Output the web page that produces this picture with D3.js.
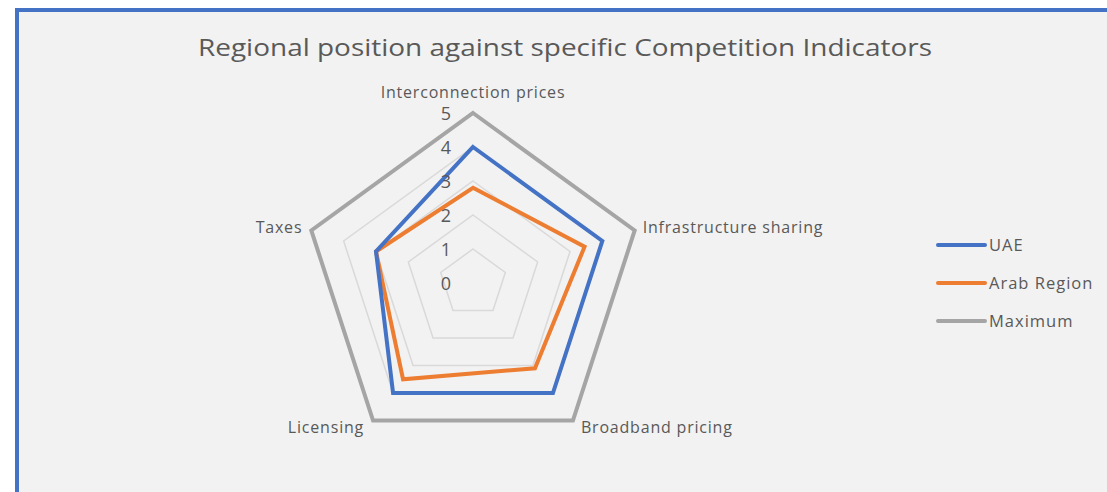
<!DOCTYPE html>
<html>
<head>
<meta charset="utf-8">
<script src="https://cdn.jsdelivr.net/npm/d3@7"></script>
<style>
  body { margin: 0; background: #fff; }
  svg { display: block; font-family: "Open Sans", sans-serif; }
</style>
</head>
<body>
<div id="chart"></div>
<script>
const categories = ["Interconnection prices", "Infrastructure sharing", "Broadband pricing", "Licensing", "Taxes"];
const uae = [4, 4, 4, 4, 3];
const arabRegion = [2.8, 3.45, 3.1, 3.5, 3];
const maximum = [5, 5, 5, 5, 5];
const seriesNames = ["UAE", "Arab Region", "Maximum"];
const ticks = [0, 1, 2, 3, 4, 5];

const width = 1107;
const height = 492;
const cx = 473, cy = 283;
const radius = 170;

const colors = {"UAE": "#4472c4", "Arab Region": "#ed7d31", "Maximum": "#a5a5a5"};
const series = [
    {name: "UAE", values: uae},
    {name: "Arab Region", values: arabRegion},
    {name: "Maximum", values: maximum}
];

const svg = d3.select("#chart").append("svg")
    .attr("width", width)
    .attr("height", height);

// chart area with the blue frame (right/bottom edges run off the page)
svg.append("rect")
    .attr("x", 17).attr("y", 10)
    .attr("width", width + 20).attr("height", height + 20)
    .attr("fill", "#f2f2f2")
    .attr("stroke", "#4472c4")
    .attr("stroke-width", 4);

svg.append("text")
    .attr("x", 565).attr("y", 56)
    .attr("text-anchor", "middle")
    .attr("font-size", 24)
    .attr("fill", "#595959")
    .attr("textLength", 734)
    .attr("lengthAdjust", "spacingAndGlyphs")
    .text("Regional position against specific Competition Indicators");

const r = d3.scaleLinear().domain([0, 5]).range([0, radius]);
const angle = d3.scalePoint().domain(categories).range([0, 2 * Math.PI * 4 / 5]);

const g = svg.append("g").attr("transform", "translate(" + cx + "," + cy + ")");

const radial = d3.lineRadial()
    .angle((d, i) => angle(categories[i]))
    .radius(d => r(d))
    .curve(d3.curveLinearClosed);

// grid rings
g.selectAll(".ring")
    .data(ticks.filter(t => t > 0 && t < 5))
    .enter()
    .append("path")
    .attr("class", "ring")
    .attr("d", t => radial(categories.map(() => t)))
    .attr("fill", "none")
    .attr("stroke", "#d9d9d9")
    .attr("stroke-width", 1.5);

// series (Maximum first so it sits underneath)
g.selectAll(".series")
    .data(series.slice().reverse())
    .enter()
    .append("path")
    .attr("class", "series")
    .attr("d", d => radial(d.values))
    .attr("fill", "none")
    .attr("stroke", d => colors[d.name])
    .attr("stroke-width", 4)
    .attr("stroke-linejoin", "miter");

// tick labels
g.selectAll(".tick")
    .data(ticks)
    .enter()
    .append("text")
    .attr("class", "tick")
    .attr("x", -27)
    .attr("y", d => -r(d) + 7)
    .attr("text-anchor", "middle")
    .attr("font-size", 18)
    .attr("fill", "#595959")
    .text(d => d);

// category labels
function pos(c, v) {
    const a = angle(c);
    return [Math.sin(a) * r(v), -Math.cos(a) * r(v)];
}
g.selectAll(".cat")
    .data(categories)
    .enter()
    .append("text")
    .attr("class", "cat")
    .attr("font-size", 16)
    .attr("letter-spacing", 0.8)
    .attr("fill", "#595959")
    .attr("text-anchor", c => {
        const s = Math.sin(angle(c));
        return Math.abs(s) < 0.1 ? "middle" : (s > 0 ? "start" : "end");
    })
    .attr("x", c => {
        const p = pos(c, 5);
        const s = Math.sin(angle(c));
        return p[0] + (Math.abs(s) < 0.1 ? 0 : (s > 0 ? 8 : -9));
    })
    .attr("y", c => {
        const p = pos(c, 5);
        const co = Math.cos(angle(c));
        if (co > 0.9) return p[1] - 15;
        if (co < 0) return p[1] + 12;
        return p[1] + 3;
    })
    .text(c => c);

// legend
const legend = svg.append("g").attr("transform", "translate(938,245)");
const item = legend.selectAll(".item")
    .data(seriesNames)
    .enter()
    .append("g")
    .attr("class", "item")
    .attr("transform", (d, i) => "translate(0," + i * 38 + ")");
item.append("line")
    .attr("x1", 0).attr("x2", 47)
    .attr("stroke", d => colors[d])
    .attr("stroke-width", 4)
    .attr("stroke-linecap", "round");
item.append("text")
    .attr("x", 51).attr("y", 6)
    .attr("font-size", 16.5)
    .attr("letter-spacing", 1)
    .attr("fill", "#595959")
    .text(d => d);
</script>
</body>
</html>
